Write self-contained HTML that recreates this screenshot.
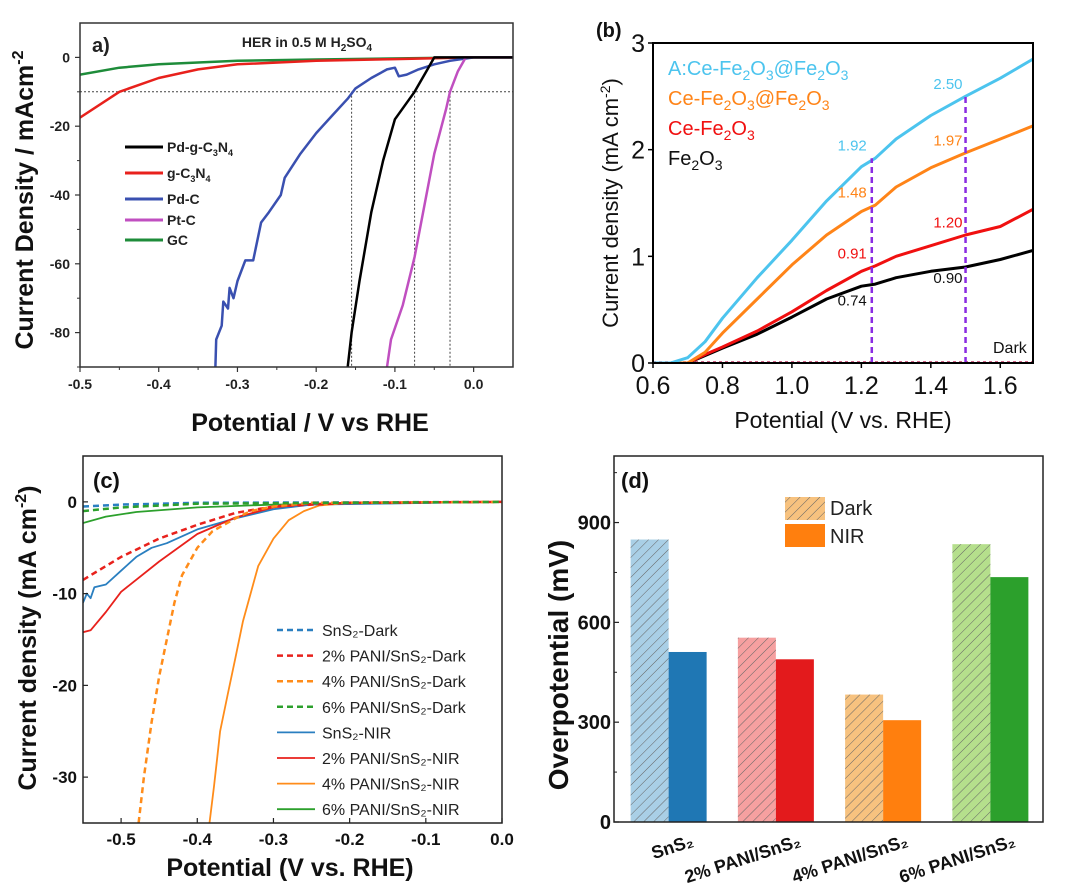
<!DOCTYPE html>
<html><head><meta charset="utf-8">
<style>
html,body{margin:0;padding:0;background:#fff;}
svg{display:block;font-family:"Liberation Sans",Arial,sans-serif;}
</style></head>
<body>
<svg id="fig" width="1080" height="889" viewBox="0 0 1080 889" xmlns="http://www.w3.org/2000/svg"></svg>
<script>
// ---------- Panel (a) data ----------
const aSeriesNames = ["Pd-g-C3N4","g-C3N4","Pd-C","Pt-C","GC"];
const aColors = ["#000000","#e8211c","#3a50b0","#c04fc0","#1e8c3a"];
const aBlack = [[-0.16,-90],[-0.155,-80],[-0.145,-65],[-0.13,-45],[-0.115,-30],[-0.1,-18],[-0.075,-10],[-0.06,-4],[-0.05,0],[0.05,0]];
const aRed = [[-0.5,-17.5],[-0.45,-10],[-0.4,-6],[-0.35,-3.5],[-0.3,-2],[-0.2,-1],[-0.1,-0.5],[0,0],[0.05,0]];
const aBlue = [[-0.328,-90],[-0.327,-82],[-0.32,-78],[-0.318,-71],[-0.312,-73],[-0.31,-67],[-0.305,-70],[-0.3,-65],[-0.29,-59],[-0.28,-59],[-0.27,-48],[-0.26,-45],[-0.245,-40],[-0.24,-35],[-0.22,-28],[-0.2,-22],[-0.18,-17],[-0.16,-12],[-0.15,-9],[-0.13,-6],[-0.11,-3.5],[-0.1,-3],[-0.095,-5.5],[-0.085,-5],[-0.07,-3.5],[-0.05,-2],[-0.03,-1],[0,0],[0.05,0]];
const aPink = [[-0.11,-90],[-0.105,-82],[-0.09,-72],[-0.075,-58],[-0.06,-40],[-0.05,-28],[-0.035,-15],[-0.03,-10],[-0.02,-4],[-0.01,0],[0.05,0]];
const aGreen = [[-0.5,-5],[-0.45,-3],[-0.4,-2],[-0.3,-1],[-0.2,-0.6],[0,0],[0.05,0]];
const aXTicks = [-0.5,-0.4,-0.3,-0.2,-0.1,0.0];
const aYTicks = [0,-20,-40,-60,-80];
const aRefLines = [-0.155,-0.075,-0.03];

// ---------- Panel (b) data ----------
const bCyan = [[0.6,0],[0.65,0],[0.7,0.05],[0.75,0.2],[0.8,0.42],[0.9,0.8],[1.0,1.15],[1.1,1.52],[1.2,1.84],[1.24,1.92],[1.3,2.1],[1.4,2.32],[1.5,2.5],[1.6,2.67],[1.7,2.86]];
const bOrange = [[0.6,0],[0.7,0],[0.75,0.1],[0.8,0.28],[0.9,0.6],[1.0,0.92],[1.1,1.2],[1.2,1.42],[1.24,1.48],[1.3,1.65],[1.4,1.83],[1.5,1.97],[1.6,2.1],[1.7,2.23]];
const bRed = [[0.6,0],[0.7,0],[0.75,0.08],[0.8,0.15],[0.9,0.3],[1.0,0.48],[1.1,0.68],[1.2,0.86],[1.24,0.91],[1.3,1.0],[1.4,1.1],[1.5,1.2],[1.6,1.28],[1.7,1.45]];
const bBlack = [[0.6,0],[0.7,0],[0.8,0.14],[0.9,0.27],[1.0,0.43],[1.1,0.6],[1.2,0.72],[1.24,0.74],[1.3,0.8],[1.4,0.86],[1.5,0.9],[1.6,0.97],[1.7,1.06]];
const bXTicks = [0.6,0.8,1.0,1.2,1.4,1.6];
const bYTicks = [0,1,2,3];
const bMarkX = [1.23,1.5];
const bMarkTop = [1.92,2.5];
const bValues1 = ["1.92","1.48","0.91","0.74"];
const bValues2 = ["2.50","1.97","1.20","0.90"];

// ---------- Panel (c) data ----------
const cNames = ["SnS₂-Dark","2% PANI/SnS₂-Dark","4% PANI/SnS₂-Dark","6% PANI/SnS₂-Dark","SnS₂-NIR","2% PANI/SnS₂-NIR","4% PANI/SnS₂-NIR","6% PANI/SnS₂-NIR"];
const cColors = ["#2a7fc0","#e8211c","#ff8c1a","#2ca02c","#2a7fc0","#e8211c","#ff8c1a","#2ca02c"];
const c1 = [[-0.55,-0.5],[-0.5,-0.3],[-0.4,-0.1],[0,0]];
const c2 = [[-0.55,-8.5],[-0.5,-6],[-0.45,-4],[-0.4,-2.5],[-0.35,-1.2],[-0.3,-0.5],[-0.2,-0.1],[0,0]];
const c3 = [[-0.477,-35],[-0.47,-30],[-0.46,-24],[-0.45,-19],[-0.44,-15],[-0.43,-11],[-0.42,-8],[-0.4,-5],[-0.38,-3.2],[-0.35,-1.8],[-0.33,-1],[-0.3,-0.5],[-0.25,-0.1],[0,0]];
const c4 = [[-0.55,-1],[-0.5,-0.6],[-0.4,-0.2],[0,0]];
const c5 = [[-0.55,-11],[-0.545,-10],[-0.54,-10.5],[-0.535,-9.3],[-0.52,-9],[-0.5,-7.5],[-0.48,-6],[-0.46,-5],[-0.44,-4.5],[-0.4,-3],[-0.35,-1.8],[-0.3,-0.8],[-0.25,-0.3],[0,0]];
const c6 = [[-0.55,-14.2],[-0.54,-14],[-0.52,-12],[-0.5,-9.8],[-0.45,-6.5],[-0.4,-3.5],[-0.35,-1.7],[-0.3,-0.6],[-0.25,-0.2],[0,0]];
const c7 = [[-0.384,-35],[-0.378,-31],[-0.374,-28],[-0.37,-25],[-0.36,-21],[-0.35,-17],[-0.34,-13],[-0.33,-10],[-0.32,-7],[-0.3,-4],[-0.28,-2],[-0.26,-1],[-0.24,-0.4],[-0.2,-0.1],[0,0]];
const c8 = [[-0.55,-2.3],[-0.52,-1.6],[-0.48,-1.1],[-0.4,-0.6],[-0.3,-0.3],[0,0]];
const cXTicks = [-0.5,-0.4,-0.3,-0.2,-0.1,0.0];
const cYTicks = [0,-10,-20,-30];

// ---------- Panel (d) data ----------
const dCategories = ["SnS₂","2% PANI/SnS₂","4% PANI/SnS₂","6% PANI/SnS₂"];
const dDark = [849,554,383,835];
const dNIR = [511,489,306,736];
const dDarkColors = ["#a9cfe6","#f6a0a0","#f7c27f","#b5df8c"];
const dNIRColors = ["#1f77b4","#e31a1c","#ff7f0e","#2ca02c"];
const dYTicks = [0,300,600,900];

const NS="http://www.w3.org/2000/svg";
const svg=document.getElementById('fig');
function el(tag,attrs,parent,txt){const e=document.createElementNS(NS,tag);for(const k in attrs)e.setAttribute(k,attrs[k]);if(txt!==undefined)e.textContent=txt;(parent||svg).appendChild(e);return e;}
function lin(d0,d1,r0,r1){return v=>r0+(v-d0)*(r1-r0)/(d1-d0);}
function pathD(pts,sx,sy){return pts.map((p,i)=>(i?'L':'M')+sx(p[0]).toFixed(1)+','+sy(p[1]).toFixed(1)).join('');}

const defs=el('defs',{});
const pat=el('pattern',{id:'hatch',width:7,height:7,patternUnits:'userSpaceOnUse',patternTransform:'rotate(45)'},defs);
el('line',{x1:0,y1:0,x2:0,y2:7,stroke:'#666','stroke-width':1},pat);
function clip(id,x,y,w,h){const c=el('clipPath',{id:id},defs);el('rect',{x:x,y:y,width:w,height:h},c);}

// ================= Panel a =================
{
const L=80,R=513,T=23,B=367;
const sx=lin(-0.5,0.05,L,R), sy=lin(10,-90,T,B);
clip('ca',L,T,R-L,B-T);
const g=el('g',{});
const rg=el('g',{'clip-path':'url(#ca)'},g);
const h=el('line',{x1:sx(-0.5),x2:sx(0.05),y1:sy(-10),y2:sy(-10),stroke:'#444','stroke-width':1,'stroke-dasharray':'2,2'},rg);


aRefLines.forEach(v=>{const l=el('line',{x1:sx(v),x2:sx(v),y1:sy(-10),y2:sy(-90),stroke:'#444','stroke-width':1,'stroke-dasharray':'2,2'},rg);

});
const series=[aBlack,aRed,aBlue,aPink,aGreen];
const order=[4,1,2,3,0];
order.forEach(i=>{const p=el('path',{d:pathD(series[i],sx,sy),fill:'none',stroke:aColors[i],'stroke-width':2.5,'stroke-linejoin':'round'},rg);

});
el('rect',{x:L,y:T,width:R-L,height:B-T,fill:'none',stroke:'#333','stroke-width':1.5},g);
aXTicks.forEach(v=>{el('line',{x1:sx(v),x2:sx(v),y1:B,y2:B+5,stroke:'#333','stroke-width':1.2},g);
const t=el('text',{x:sx(v),y:B+22,'text-anchor':'middle','font-size':14,'font-weight':'bold',fill:'#222'},g,v.toFixed(1));

});
[-0.45,-0.35,-0.25,-0.15,-0.05].forEach(v=>el('line',{x1:sx(v),x2:sx(v),y1:B,y2:B+3,stroke:'#333'},g));
aYTicks.forEach(v=>{el('line',{x1:L-5,x2:L,y1:sy(v),y2:sy(v),stroke:'#333','stroke-width':1.2},g);
const t=el('text',{x:L-10,y:sy(v)+5,'text-anchor':'end','font-size':14,'font-weight':'bold',fill:'#222'},g,String(v));

});
[-10,-30,-50,-70,-90].forEach(v=>el('line',{x1:L-3,x2:L,y1:sy(v),y2:sy(v),stroke:'#333'},g));
const lab=el('text',{x:92,y:52,'font-size':20,'font-weight':'bold',fill:'#222'},g,'a)');

const tt=el('text',{x:307,y:47,'text-anchor':'middle','font-size':14,'font-weight':'bold',fill:'#222'},g);

tt.innerHTML='HER in 0.5 M H<tspan font-size="10" dy="4">2</tspan><tspan dy="-4">SO</tspan><tspan font-size="10" dy="4">4</tspan>';
const legLabels=['Pd-g-C<tspan font-size="9" dy="4">3</tspan><tspan dy="-4">N</tspan><tspan font-size="9" dy="4">4</tspan>','g-C<tspan font-size="9" dy="4">3</tspan><tspan dy="-4">N</tspan><tspan font-size="9" dy="4">4</tspan>','Pd-C','Pt-C','GC'];
const legY=[147,173,199,220,240];
legLabels.forEach((s,i)=>{const lg=el('g',{},g);


el('line',{x1:125,x2:163,y1:legY[i],y2:legY[i],stroke:aColors[i],'stroke-width':3},lg);
const t=el('text',{x:167,y:legY[i]+5,'font-size':14,'font-weight':'bold',fill:'#222'},lg);t.innerHTML=s;});
const yt=el('text',{x:0,y:0,transform:'translate(33,200) rotate(-90)','text-anchor':'middle','font-size':25,'font-weight':'bold',fill:'#111'},g);

yt.innerHTML='Current Density / mAcm<tspan font-size="16" dy="-10">-2</tspan>';
const xt=el('text',{x:310,y:431,'text-anchor':'middle','font-size':25,'font-weight':'bold',fill:'#111'},g,'Potential / V vs RHE');

}

// ================= Panel b =================
{
const L=653,R=1033,T=43,B=363;
const sx=lin(0.6,1.7,L,R+2), sy=lin(0,3,B,T);
clip('cb',L,T,R-L,B-T);
const g=el('g',{});
const rg=el('g',{'clip-path':'url(#cb)'},g);
const dk=el('line',{x1:sx(0.6),x2:sx(1.7),y1:sy(0)-1,y2:sy(0)-1,stroke:'#c03060','stroke-width':1.5,'stroke-dasharray':'3,3'},rg);

const bc=[bBlack,bRed,bOrange,bCyan], bcol=['#000','#f01010','#ff8418','#4cc4ee'], bn=['fe2o3','ce-fe2o3','ce-fe2o3-at-fe2o3','a-ce-fe2o3-at-fe2o3'];
bc.forEach((s,i)=>{const p=el('path',{d:pathD(s,sx,sy),fill:'none',stroke:bcol[i],'stroke-width':3,'stroke-linejoin':'round'},rg);

});
bMarkX.forEach((v,i)=>{const l=el('line',{x1:sx(v),x2:sx(v),y1:sy(0),y2:sy(bMarkTop[i]),stroke:'#8a2be2','stroke-width':2.5,'stroke-dasharray':'6,4'},g);
});
el('rect',{x:L,y:T,width:R-L,height:B-T,fill:'none',stroke:'#000','stroke-width':2},g);
bXTicks.forEach(v=>{el('line',{x1:sx(v),x2:sx(v),y1:B,y2:B+5,stroke:'#000','stroke-width':1.5},g);
const t=el('text',{x:sx(v),y:B+31,'text-anchor':'middle','font-size':25,fill:'#111'},g,v.toFixed(1));
});
bYTicks.forEach(v=>{el('line',{x1:L-5,x2:L,y1:sy(v),y2:sy(v),stroke:'#000','stroke-width':1.5},g);
const t=el('text',{x:L-8,y:sy(v)+9,'text-anchor':'end','font-size':25,fill:'#111'},g,String(v));
});
const legB=[['A:Ce-Fe<tspan font-size="14" dy="5">2</tspan><tspan dy="-5">O</tspan><tspan font-size="14" dy="5">3</tspan><tspan dy="-5">@Fe</tspan><tspan font-size="14" dy="5">2</tspan><tspan dy="-5">O</tspan><tspan font-size="14" dy="5">3</tspan>','#4cc4ee',75],
['Ce-Fe<tspan font-size="14" dy="5">2</tspan><tspan dy="-5">O</tspan><tspan font-size="14" dy="5">3</tspan><tspan dy="-5">@Fe</tspan><tspan font-size="14" dy="5">2</tspan><tspan dy="-5">O</tspan><tspan font-size="14" dy="5">3</tspan>','#ff8418',105],
['Ce-Fe<tspan font-size="14" dy="5">2</tspan><tspan dy="-5">O</tspan><tspan font-size="14" dy="5">3</tspan>','#f01010',135],
['Fe<tspan font-size="14" dy="5">2</tspan><tspan dy="-5">O</tspan><tspan font-size="14" dy="5">3</tspan>','#111',165]];
legB.forEach(l=>{const t=el('text',{x:668,y:l[2],'font-size':20,fill:l[1]},g);t.innerHTML=l[0];
});
const lv=[[bCyan,'#4cc4ee'],[bOrange,'#ff8418'],[bRed,'#f01010'],[bBlack,'#111']];
const ly1=[1.92,1.48,0.91,0.74], ly2=[2.50,1.97,1.20,0.90];
bValues1.forEach((s,i)=>{
const t=el('text',{x:sx(1.23)-5,y:sy(ly1[i]+(i===3?-0.2:0.07)),'text-anchor':'end','font-size':15,fill:lv[i][1]},g,s);
});
bValues2.forEach((s,i)=>{const t=el('text',{x:sx(1.5)-3,y:sy(ly2[i]+(i===3?-0.15:0.07)),'text-anchor':'end','font-size':15,fill:lv[i][1]},g,s);
});
const dt=el('text',{x:993,y:353,'font-size':16,fill:'#111'},g,'Dark');

const lb=el('text',{x:596,y:37,'font-size':20,'font-weight':'bold',fill:'#111'},g,'(b)');

const yt=el('text',{x:0,y:0,transform:'translate(618,203) rotate(-90)','text-anchor':'middle','font-size':22,fill:'#111'},g);

yt.innerHTML='Current density (mA cm<tspan font-size="14" dy="-8">-2</tspan><tspan dy="8">)</tspan>';
const xt=el('text',{x:843,y:428,'text-anchor':'middle','font-size':23,fill:'#111'},g,'Potential (V vs. RHE)');

}

// ================= Panel c =================
{
const L=83,R=502,T=456,B=823;
const sx=lin(-0.55,0,L,R), sy=lin(5,-35,T,B);
clip('cc',L,T,R-L,B-T);
const g=el('g',{});
const rg=el('g',{'clip-path':'url(#cc)'},g);
const cs=[c1,c2,c3,c4,c5,c6,c7,c8];
const draw=[7,4,5,6,0,1,2,3];
draw.forEach(i=>{const dash=i<4;
const p=el('path',{d:pathD(cs[i],sx,sy),fill:'none',stroke:cColors[i],'stroke-width':dash?2.5:1.8,'stroke-dasharray':dash?'6,4':'none','stroke-linejoin':'round'},rg);

});
el('rect',{x:L,y:T,width:R-L,height:B-T,fill:'none',stroke:'#222','stroke-width':1.5},g);
cXTicks.forEach(v=>{el('line',{x1:sx(v),x2:sx(v),y1:B,y2:B-5,stroke:'#222','stroke-width':1.2},g);
const t=el('text',{x:sx(v),y:B+22,'text-anchor':'middle','font-size':17,'font-weight':'bold',fill:'#111'},g,v.toFixed(1));
});
cYTicks.forEach(v=>{el('line',{x1:L,x2:L+5,y1:sy(v),y2:sy(v),stroke:'#222','stroke-width':1.2},g);
const t=el('text',{x:L-6,y:sy(v)+6,'text-anchor':'end','font-size':17,'font-weight':'bold',fill:'#111'},g,String(v));
});
cNames.forEach((n,i)=>{const y=630+i*25.6;const lg=el('g',{},g);


el('line',{x1:277,x2:315,y1:y,y2:y,stroke:cColors[i],'stroke-width':i<4?2.5:1.8,'stroke-dasharray':i<4?'6,4':'none'},lg);
el('text',{x:322,y:y+6,'font-size':16,fill:'#222'},lg,n);});
const lb=el('text',{x:93,y:488,'font-size':22,'font-weight':'bold',fill:'#111'},g,'(c)');

const yt=el('text',{x:0,y:0,transform:'translate(36,638) rotate(-90)','text-anchor':'middle','font-size':25,'font-weight':'bold',fill:'#111'},g);

yt.innerHTML='Current density (mA cm<tspan font-size="16" dy="-10">-2</tspan><tspan dy="10">)</tspan>';
const xt=el('text',{x:290,y:876,'text-anchor':'middle','font-size':25,'font-weight':'bold',fill:'#111'},g,'Potential (V vs. RHE)');

}

// ================= Panel d =================
{
const L=614,R=1043,T=456,B=822;
const sy=lin(0,1100,B,T);
const groupW=(R-L)/4, barW=38;
const cx=i=>L+groupW*(i+0.5)+1;
const g=el('g',{});
dCategories.forEach((c,i)=>{
const x=cx(i);
const r1=el('rect',{x:x-barW,y:sy(dDark[i]),width:barW,height:B-sy(dDark[i]),fill:dDarkColors[i]},g);

el('rect',{x:x-barW,y:sy(dDark[i]),width:barW,height:B-sy(dDark[i]),fill:'url(#hatch)'},g);
const r2=el('rect',{x:x,y:sy(dNIR[i]),width:barW,height:B-sy(dNIR[i]),fill:dNIRColors[i]},g);

const t=el('text',{x:0,y:0,transform:'translate('+(x+26)+',846) rotate(-18)','text-anchor':'end','font-size':18,'font-weight':'bold',fill:'#111'},g,c);

});
el('rect',{x:L,y:T,width:R-L,height:B-T,fill:'none',stroke:'#222','stroke-width':1.5},g);
dYTicks.forEach(v=>{el('line',{x1:L,x2:L+5,y1:sy(v),y2:sy(v),stroke:'#222','stroke-width':1.2},g);
const t=el('text',{x:L-3,y:sy(v)+7,'text-anchor':'end','font-size':20,'font-weight':'bold',fill:'#111'},g,String(v));
});
[150,450,750,1050].forEach(v=>el('line',{x1:L,x2:L+3,y1:sy(v),y2:sy(v),stroke:'#222'},g));
const lg1=el('g',{},g);

el('rect',{x:785,y:497,width:40,height:23,fill:'#f7c27f'},lg1);
el('rect',{x:785,y:497,width:40,height:23,fill:'url(#hatch)'},lg1);
el('text',{x:830,y:515,'font-size':20,fill:'#222'},lg1,'Dark');
const lg2=el('g',{},g);

el('rect',{x:785,y:524,width:40,height:23,fill:'#ff7f0e'},lg2);
el('text',{x:830,y:543,'font-size':20,fill:'#222'},lg2,'NIR');
const lb=el('text',{x:621,y:488,'font-size':22,'font-weight':'bold',fill:'#111'},g,'(d)');

const yt=el('text',{x:0,y:0,transform:'translate(568,665) rotate(-90)','text-anchor':'middle','font-size':28,'font-weight':'bold',fill:'#111'},g,'Overpotential (mV)');

}
</script>
</body></html>
